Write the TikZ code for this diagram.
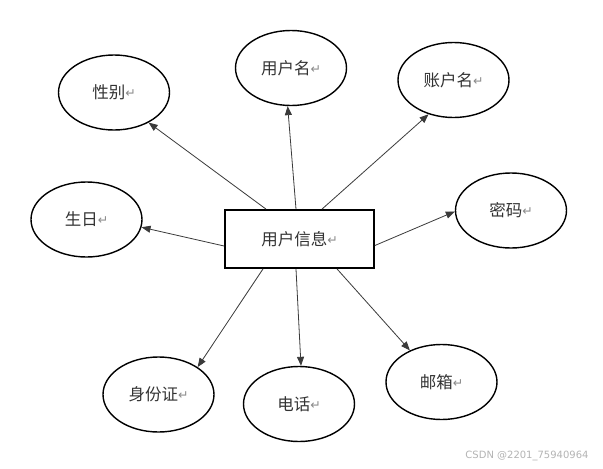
\documentclass[tikz,border=0pt]{standalone}
\usepackage{fontspec}
\setmainfont{Noto Sans CJK SC}
\newfontfamily\symfont{DejaVu Sans}
\usepackage{xcolor}
\definecolor{textcolor}{HTML}{333333}
\definecolor{bordercolor}{HTML}{000000}
\definecolor{arrowcolor}{HTML}{3a3a3a}
\definecolor{markcolor}{HTML}{8a8a8a}
\definecolor{wmcolor}{HTML}{b4b4b4}
\usetikzlibrary{arrows.meta,shapes.geometric}
\newcommand{\retmark}{\raisebox{1pt}{\symfont\fontsize{12.5}{14}\selectfont\color{markcolor}↵}}
\tikzset{
    entity/.style={
        rectangle,
        draw=bordercolor,
        fill=white,
        text=textcolor,
        minimum width=149pt,
        minimum height=58pt,
        line width=1.8pt,
        font=\fontsize{16.5}{19}\selectfont,
    },
    attr/.style={
        ellipse,
        draw=bordercolor,
        fill=white,
        text=textcolor,
        minimum width=111pt,
        minimum height=75pt,
        inner sep=0pt,
        line width=1.4pt,
        font=\fontsize{16.5}{19}\selectfont,
    },
    link/.style={
        -{Triangle[length=9pt,width=7pt]},
        line width=0.8pt,
        arrowcolor,
    },
    watermark/.style={
        text=wmcolor,
        font=\symfont\fontsize{10}{12}\selectfont,
    },
}

\begin{document}
\begin{tikzpicture}[x=1pt,y=-1pt]
    \useasboundingbox[fill=white] (0,0) rectangle (603,469);

    % Entity
    \node[entity] (info) at (299.5,239) {用户信息\retmark};

    % Attributes (top)
    \node[attr] (gender)  at (114,92.5)  {性别\retmark};
    \node[attr] (uname)   at (291,68)    {用户名\retmark};
    \node[attr] (account) at (453.5,80)  {账户名\retmark};

    % Attributes (sides)
    \node[attr] (birth)   at (86.5,219.5) {生日\retmark};
    \node[attr] (passwd)  at (511,210.5)  {密码\retmark};

    % Attributes (bottom)
    \node[attr] (idcard)  at (158.5,394.5) {身份证\retmark};
    \node[attr] (phone)   at (299,404)     {电话\retmark};
    \node[attr] (email)   at (441.5,382)   {邮箱\retmark};

    % Links from the entity
    \foreach \dx/\tgt/\ang in {-33.5/gender/319, -3.5/uname/265, 22.5/account/234} {
        \draw[link] ([xshift=\dx pt]info.north) -- (\tgt.\ang);
    }
    \foreach \dx/\tgt/\ang in {-36.5/idcard/35, -3.5/phone/87, 37.5/email/135} {
        \draw[link] ([xshift=\dx pt]info.south) -- (\tgt.\ang);
    }
    \draw[link] ([yshift=-7pt]info.west) -- (birth.352);
    \draw[link] ([yshift=-6.5pt]info.east) -- (passwd.181);

    % Watermark
    \node[watermark] (wm) at (527,455.5) {CSDN @2201\_75940964};
\end{tikzpicture}
\end{document}
